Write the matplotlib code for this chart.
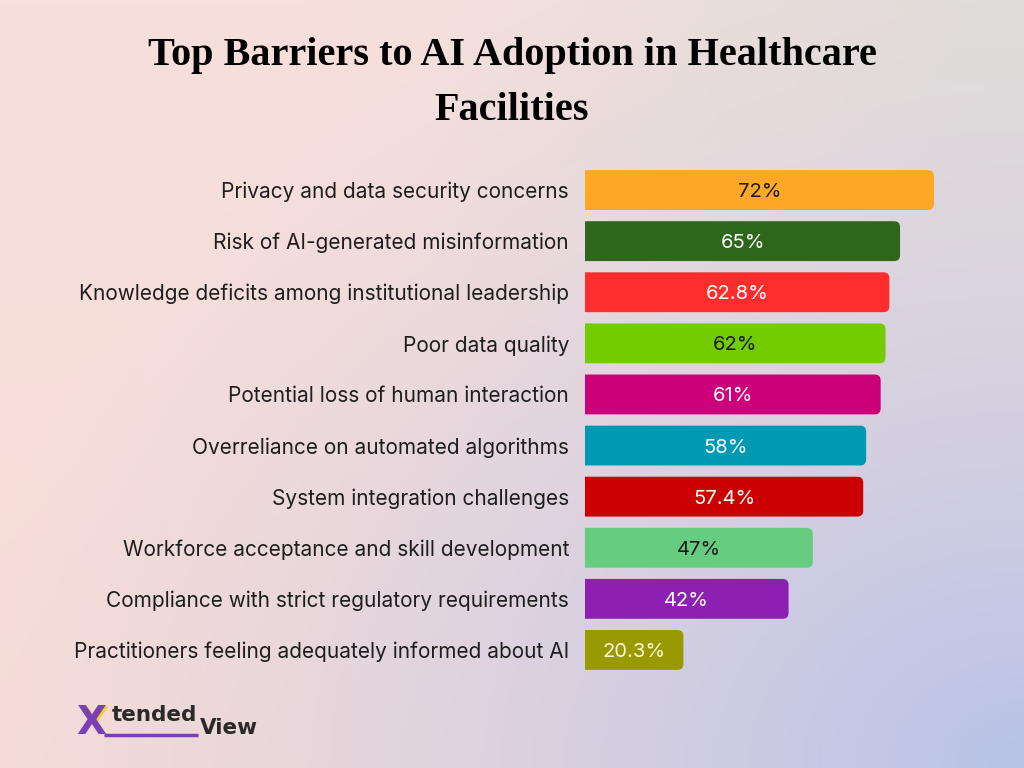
import numpy as np
import matplotlib
matplotlib.use("Agg")
import matplotlib.pyplot as plt
from matplotlib.patches import PathPatch
from matplotlib.path import Path

categories = [
    "Privacy and data security concerns",
    "Risk of AI-generated misinformation",
    "Knowledge deficits among institutional leadership",
    "Poor data quality",
    "Potential loss of human interaction",
    "Overreliance on automated algorithms",
    "System integration challenges",
    "Workforce acceptance and skill development",
    "Compliance with strict regulatory requirements",
    "Practitioners feeling adequately informed about AI",
]
values = [72, 65, 62.8, 62, 61, 58, 57.4, 47, 42, 20.3]
value_labels = ["72%", "65%", "62.8%", "62%", "61%", "58%", "57.4%", "47%", "42%", "20.3%"]
bar_colors = ["#FFA726", "#2E671C", "#FF2D2D", "#72CC00", "#CC007A",
              "#0099B3", "#CC0000", "#66CC80", "#8E1FB3", "#999900"]
label_colors = ["#1a1a1a", "white", "white", "#1a1a1a", "white",
                "white", "white", "#1a1a1a", "white", "#FFF8DC"]

W, H = 1024, 768
fig = plt.figure(figsize=(W / 100, H / 100), dpi=100)

# background gradient: pink base, lavender toward bottom-right, grey toward top-right
bg = fig.add_axes([0, 0, 1, 1], zorder=-10)
pink = np.array([247, 224, 220]) / 255
pink2 = np.array([245, 216, 210]) / 255
blue = np.array([184, 195, 232]) / 255
grey = np.array([226, 222, 216]) / 255
ny, nx = 200, 260
yy, xx = np.mgrid[0:1:ny * 1j, 0:1:nx * 1j]
base = pink[None, None, :] * (1 - yy[..., None] * 0.5) + pink2[None, None, :] * (yy[..., None] * 0.5)
d_br = np.sqrt(((1 - xx) * 1.0) ** 2 + ((1 - yy) * 0.9) ** 2)
w_b = np.clip(1 - d_br / 1.05, 0, 1) ** 1.3
d_tr = np.sqrt(((1 - xx) * 1.0) ** 2 + (yy * 1.0) ** 2)
w_g = np.clip(1 - d_tr / 0.7, 0, 1) ** 1.2
img = base * (1 - w_g[..., None]) + grey * w_g[..., None]
img = img * (1 - w_b[..., None]) + blue * w_b[..., None]
bg.imshow(img, aspect="auto", extent=[0, 1, 0, 1], origin="upper")
bg.axis("off")
bg.set_xlim(0, 1)
bg.set_ylim(0, 1)

# chart axes
left_px, right_px = 585, 965
top_px, bot_px = 164.5, 675.5
ax = fig.add_axes([left_px / W, 1 - bot_px / H, (right_px - left_px) / W, (bot_px - top_px) / H])
ax.patch.set_alpha(0)
px_per_unit_x = 4.847
ax.set_xlim(0, (right_px - left_px) / px_per_unit_x)
n = len(categories)
ax.set_ylim(n - 0.5, -0.5)
for s in ax.spines.values():
    s.set_visible(False)
ax.set_xticks([])
ax.set_yticks(range(n))
ax.set_yticklabels(categories, fontsize=15, color="#1e1e1e", family="Inter")
ax.tick_params(axis="y", length=0, pad=11.5)

bar_h = 0.78
px_per_unit_y = (bot_px - top_px) / n
r_px = 6
rx = r_px / px_per_unit_x
ry = r_px / px_per_unit_y


def right_rounded_bar(v, yc):
    y0, y1 = yc - bar_h / 2, yc + bar_h / 2
    verts = [(0, y0), (v - rx, y0), (v, y0), (v, y0 + ry), (v, y1 - ry),
             (v, y1), (v - rx, y1), (0, y1), (0, y0)]
    codes = [Path.MOVETO, Path.LINETO, Path.CURVE3, Path.CURVE3, Path.LINETO,
             Path.CURVE3, Path.CURVE3, Path.LINETO, Path.CLOSEPOLY]
    return Path(verts, codes)


for i, (v, c) in enumerate(zip(values, bar_colors)):
    ax.add_patch(PathPatch(right_rounded_bar(v, i), fc=c, ec="none"))
    ax.text(v / 2, i, value_labels[i], ha="center", va="center_baseline",
            fontsize=14.5, color=label_colors[i], family="Inter")

# title
fig.text(0.5, 1 - 55 / H, "Top Barriers to AI Adoption in Healthcare", ha="center", va="center",
         fontsize=29, fontweight="bold", family="Liberation Serif", color="black")
fig.text(0.5, 1 - 111 / H, "Facilities", ha="center", va="center",
         fontsize=29, fontweight="bold", family="Liberation Serif", color="black")

# logo
fig.text(76 / W, 1 - 723 / H, "X", fontsize=28, fontweight="bold", color="#7B3FB5",
         family="DejaVu Sans", ha="left", va="center")
bg.plot([84 / W, 95 / W, 106 / W], [1 - 706 / H, 1 - 721 / H, 1 - 706 / H],
        color="#F2D22E", lw=3.5, solid_joinstyle="miter", solid_capstyle="butt")
fig.text(112 / W, 1 - 715 / H, "tended", fontsize=15.5, fontweight="bold", color="#2a2a2a",
         family="DejaVu Sans", ha="left", va="center")
fig.text(200 / W, 1 - 728 / H, "View", fontsize=15.5, fontweight="bold", color="#2a2a2a",
         family="DejaVu Sans", ha="left", va="center")
bg.plot([104 / W, 198 / W], [1 - 735 / H, 1 - 735 / H], color="#7B3FB5", lw=2.5,
        solid_capstyle="butt")

fig.savefig("out.png", dpi=100)
